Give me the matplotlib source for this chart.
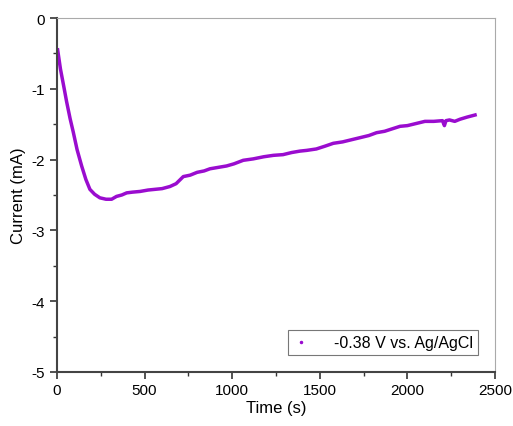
import matplotlib
matplotlib.use("Agg")
import matplotlib.pyplot as plt
from matplotlib.lines import Line2D
from matplotlib.ticker import MultipleLocator

plt.rcParams['font.family'] = ['Liberation Sans', 'DejaVu Sans']
plt.rcParams['axes.unicode_minus'] = False

# chronoamperometry trace
time_s = [4, 20, 40, 55, 75, 93, 115, 141, 165, 188, 215, 245, 280, 312, 340,
          370, 398, 430, 474, 520, 560, 600, 645, 680, 721, 760, 800, 840,
          873, 920, 968, 1010, 1063, 1120, 1180, 1235, 1290, 1340, 1387,
          1425, 1480, 1530, 1577, 1630, 1680, 1730, 1780, 1824, 1870, 1920,
          1958, 2000, 2050, 2100, 2150, 2200, 2211, 2220, 2240, 2270, 2300,
          2340, 2386]
current_mA = [-0.45, -0.72, -0.98, -1.18, -1.42, -1.61, -1.86, -2.09, -2.28,
              -2.42, -2.49, -2.54, -2.56, -2.56, -2.52, -2.50, -2.47, -2.46,
              -2.45, -2.43, -2.42, -2.41, -2.38, -2.34, -2.24, -2.22, -2.18,
              -2.16, -2.13, -2.11, -2.09, -2.06, -2.01, -1.99, -1.96, -1.94,
              -1.93, -1.90, -1.88, -1.87, -1.85, -1.81, -1.77, -1.75, -1.72,
              -1.69, -1.66, -1.62, -1.60, -1.56, -1.53, -1.52, -1.49, -1.46,
              -1.46, -1.45, -1.52, -1.45, -1.44, -1.46, -1.43, -1.40, -1.37]
label = "-0.38 V vs. Ag/AgCl"
line_color = "#9a0ccf"

fig = plt.figure(figsize=(5.13, 4.27), dpi=100)
ax = fig.add_axes([0.111, 0.1265, 0.854, 0.829])

ax.plot(time_s, current_mA, color=line_color, lw=2.5, solid_joinstyle='round')

ax.set_xlim(0, 2500)
ax.set_ylim(-5, 0)
ax.xaxis.set_major_locator(MultipleLocator(500))
ax.xaxis.set_minor_locator(MultipleLocator(250))
ax.yaxis.set_major_locator(MultipleLocator(1))
ax.yaxis.set_minor_locator(MultipleLocator(0.5))

ax.tick_params(which='both', direction='out', color='#333333', labelsize=11)
ax.tick_params(which='major', length=5, width=1.2)
ax.tick_params(which='minor', length=3, width=1.0)
ax.tick_params(axis='x', pad=3)

for side in ['left', 'bottom']:
    ax.spines[side].set_color('#444444')
    ax.spines[side].set_linewidth(1.5)
for side in ['top', 'right']:
    ax.spines[side].set_color('#aaaaaa')
    ax.spines[side].set_linewidth(0.8)

ax.set_xlabel("Time (s)", fontsize=12, labelpad=2)
ax.set_ylabel("Current (mA)", fontsize=12, labelpad=4)

handle = Line2D([], [], color=line_color, marker='.', markersize=3, linestyle='none')
leg = ax.legend([handle], [label], loc='lower right', fontsize=11.5,
                fancybox=False, edgecolor='#777777', framealpha=1,
                bbox_to_anchor=(0.961, 0.048), borderaxespad=0,
                handletextpad=1.6, borderpad=0.3, handlelength=1.0)
leg.get_frame().set_linewidth(0.8)

fig.savefig("out.png", dpi=100)
